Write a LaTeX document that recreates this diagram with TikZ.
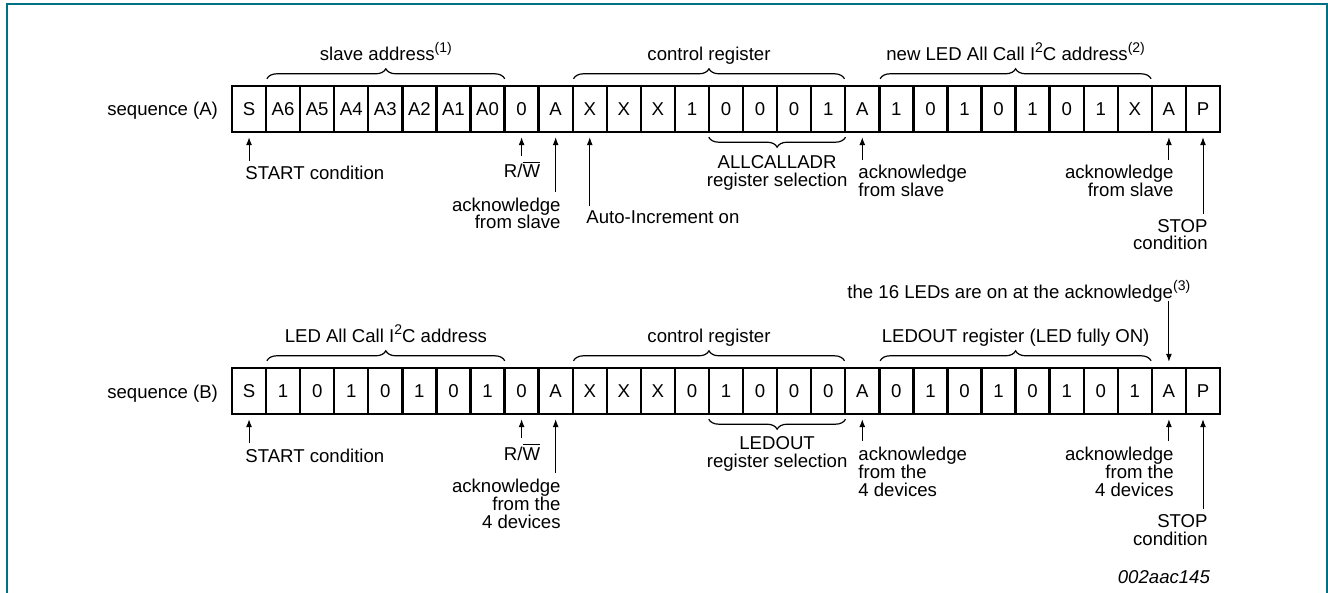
\documentclass[tikz,border=0pt]{standalone}
\usepackage{fontspec}
\setmainfont{Liberation Sans}
\usetikzlibrary{positioning,calc,decorations.pathreplacing,arrows.meta}
\definecolor{frameteal}{RGB}{0,112,133}
\newcommand{\supnote}[1]{\raisebox{0.85ex}{\fontsize{7}{7}\selectfont #1}}

\begin{document}
\begin{tikzpicture}[x=0.5pt, y=-0.5pt,
    font=\fontsize{9.3}{9}\selectfont,
    cell/.style={draw, line width=1.2pt, minimum width=17.035pt, minimum height=23pt, inner sep=0pt},
    note/.style={inner xsep=0pt, inner ysep=2.5pt},
    ptr/.style={-{Latex[length=4pt,width=3pt]}, line width=0.5pt, shorten >=2pt},
    brace/.style={decorate, decoration={brace, amplitude=5pt}, line width=0.6pt}
]
    \useasboundingbox (0,0) rectangle (1328,593);
    \draw[frameteal, line width=1pt] (7,593) -- (7,4.5) -- (1327,4.5) -- (1327,593);

    % sequence (A)
    \node[anchor=base east] (seqA) at (225,116) {sequence (A)};
    \foreach \t [count=\i] in {S,A6,A5,A4,A3,A2,A1,A0,0,A,X,X,X,1,0,0,0,1,A,1,0,1,0,1,0,1,X,A,P}
        \node[cell] (a\i) at ({232+(\i-0.5)*34.07},109) {\t};

    \draw[brace] ([xshift=1pt,yshift=3pt]a2.north west) -- ([xshift=-0.5pt,yshift=3pt]a8.north east)
        node[midway, anchor=base, yshift=9pt] (addrA) {slave address\supnote{(1)}};
    \draw[brace] ([xshift=1pt,yshift=3pt]a11.north west) -- ([xshift=-1pt,yshift=3pt]a18.north east)
        node[midway, anchor=base, yshift=9pt] (ctrlA) {control register};
    \draw[brace] ([xshift=1pt,yshift=3pt]a20.north west) -- ([xshift=-1pt,yshift=3pt]a27.north east)
        node[midway, anchor=base, yshift=9pt] (newA) {new LED All Call I\supnote{2}C address\supnote{(2)}};
    \draw[brace] ([xshift=-0.5pt,yshift=-2pt]a18.south east) -- ([xshift=0.5pt,yshift=-2pt]a15.south west)
        node[midway, anchor=base, yshift=-24.5pt, align=center] (selA) {ALLCALLADR\\register selection};

    \node[note, anchor=base west] (startA) at (245,180) {START condition};
    \node[note, anchor=base] (rwA) at (522,178) {R/$\overline{\mbox{W}}$};
    \node[note, anchor=base east, align=right] (ackA1) at (561,229) {acknowledge\\from slave};
    \node[note, anchor=base west] (autoA) at (586,224) {Auto-Increment on};
    \node[note, anchor=base west, align=left] (ackA2) at (858,197) {acknowledge\\from slave};
    \node[note, anchor=base east, align=right] (ackA3) at (1174,197) {acknowledge\\from slave};
    \node[note, anchor=base east, align=right] (stopA) at (1208,250) {STOP\\condition};

    \draw[ptr] (startA.north -| a1.south) -- (a1.south);
    \draw[ptr] (rwA.north -| a9.south) -- (a9.south);
    \draw[ptr] (ackA1.north -| a10.south) -- (a10.south);
    \draw[ptr] (autoA.north -| a11.south) -- (a11.south);
    \draw[ptr] (ackA2.north -| a19.south) -- (a19.south);
    \draw[ptr] (ackA3.north -| a28.south) -- (a28.south);
    \draw[ptr] (stopA.north -| a29.south) -- (a29.south);

    % sequence (B)
    \node[anchor=base east] (seqB) at (225,398) {sequence (B)};
    \foreach \t [count=\i] in {S,1,0,1,0,1,0,1,0,A,X,X,X,0,1,0,0,0,A,0,1,0,1,0,1,0,1,A,P}
        \node[cell] (b\i) at ({232+(\i-0.5)*34.07},391) {\t};

    \draw[brace] ([xshift=1pt,yshift=3pt]b2.north west) -- ([xshift=-0.5pt,yshift=3pt]b8.north east)
        node[midway, anchor=base, yshift=9pt] (addrB) {LED All Call I\supnote{2}C address};
    \draw[brace] ([xshift=1pt,yshift=3pt]b11.north west) -- ([xshift=-1pt,yshift=3pt]b18.north east)
        node[midway, anchor=base, yshift=9pt] (ctrlB) {control register};
    \draw[brace] ([xshift=1pt,yshift=3pt]b20.north west) -- ([xshift=-1pt,yshift=3pt]b27.north east)
        node[midway, anchor=base, yshift=9pt] (ledB) {LEDOUT register (LED fully ON)};
    \draw[brace] ([xshift=-0.5pt,yshift=-2pt]b18.south east) -- ([xshift=0.5pt,yshift=-2pt]b15.south west)
        node[midway, anchor=base, yshift=-24pt, align=center] (selB) {LEDOUT\\register selection};

    \node[note, anchor=base west] (onB) at (847,299) {the 16 LEDs are on at the acknowledge\supnote{(3)}};
    \draw[ptr, shorten <=1pt, shorten >=2.5pt] (onB.base -| b28.north) -- (b28.north);

    \node[note, anchor=base west] (startB) at (245,462) {START condition};
    \node[note, anchor=base] (rwB) at (522,460) {R/$\overline{\mbox{W}}$};
    \node[note, anchor=base east, align=right] (ackB1) at (561,528) {acknowledge\\from the\\4 devices};
    \node[note, anchor=base west, align=left] (ackB2) at (858,496) {acknowledge\\from the\\4 devices};
    \node[note, anchor=base east, align=right] (ackB3) at (1174,496) {acknowledge\\from the\\4 devices};
    \node[note, anchor=base east, align=right] (stopB) at (1208,545) {STOP\\condition};

    \draw[ptr] (startB.north -| b1.south) -- (b1.south);
    \draw[ptr] (rwB.north -| b9.south) -- (b9.south);
    \draw[ptr] (ackB1.north -| b10.south) -- (b10.south);
    \draw[ptr] (ackB2.north -| b19.south) -- (b19.south);
    \draw[ptr] (ackB3.north -| b28.south) -- (b28.south);
    \draw[ptr] (stopB.north -| b29.south) -- (b29.south);

    \node[anchor=base east, font=\fontsize{9.3}{9}\selectfont\itshape] (figid) at (1217,583) {002aac145};
\end{tikzpicture}
\end{document}
